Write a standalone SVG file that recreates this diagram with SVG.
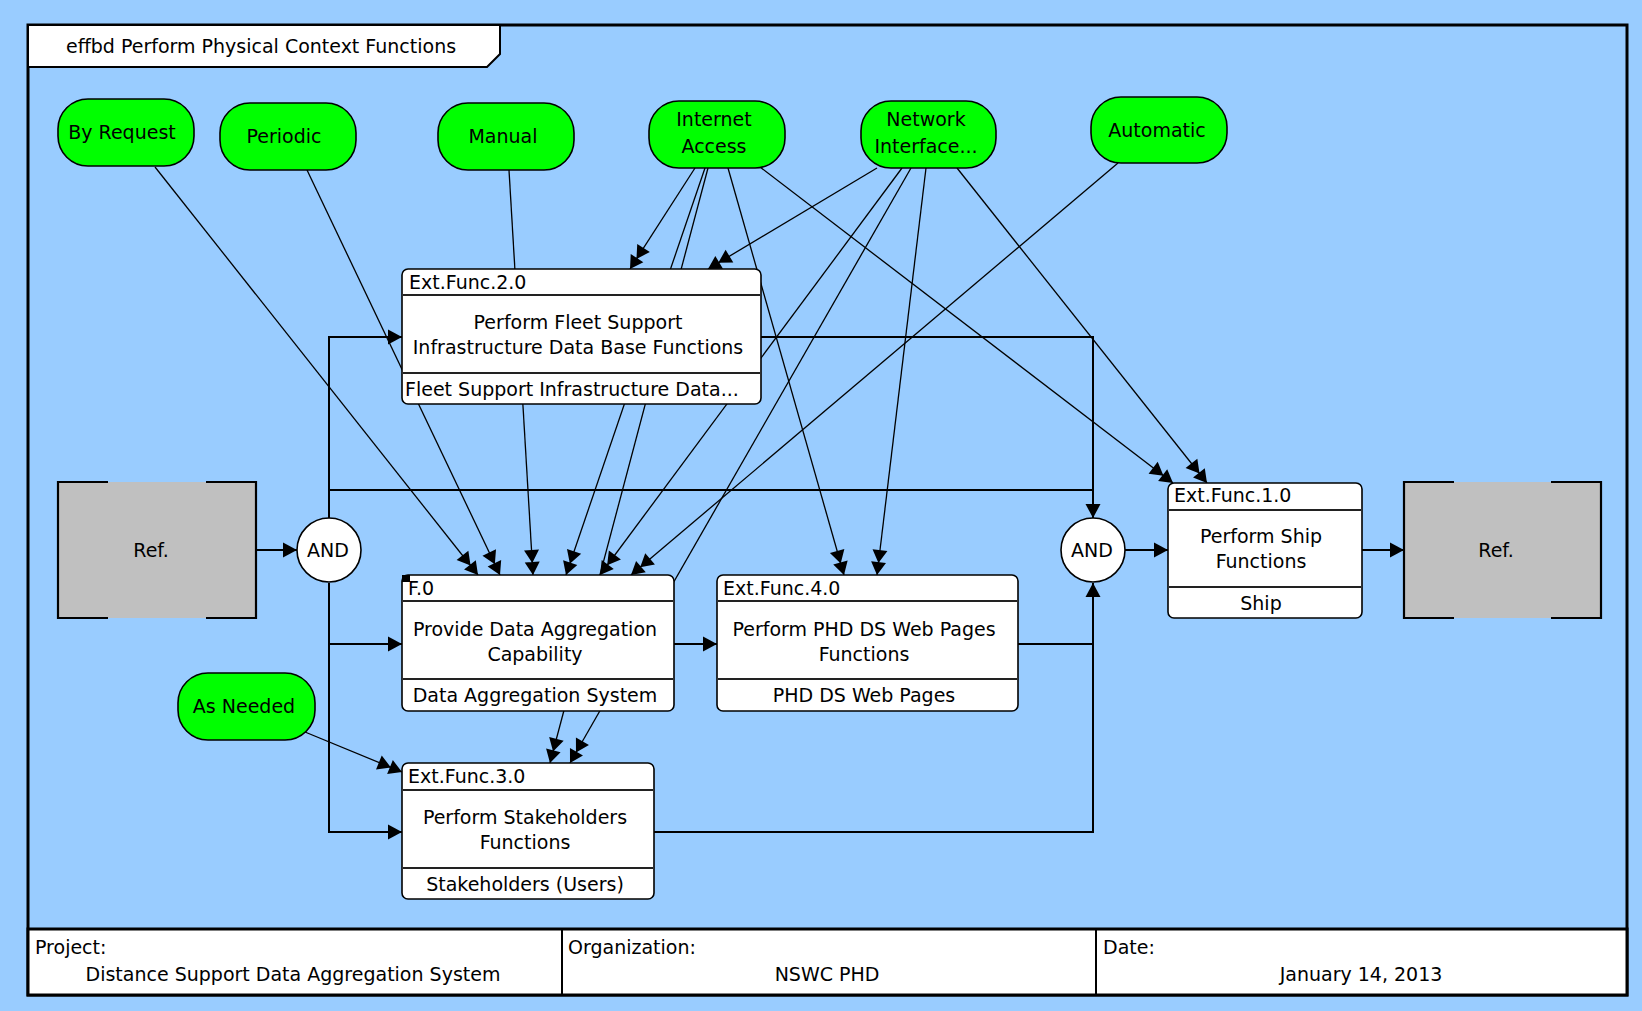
<svg xmlns="http://www.w3.org/2000/svg" width="1642" height="1011" viewBox="0 0 1642 1011">
<defs>
<style>
text { font-family: "DejaVu Sans", "Liberation Sans", sans-serif; font-size: 19px; fill: #000; }
.mid { text-anchor: middle; }
.res { fill: #00ff00; stroke: #000; stroke-width: 1.6; }
.fn { fill: #fff; stroke: #000; stroke-width: 1.6; }
.div { stroke: #222; stroke-width: 2; }
.ref { fill: #c0c0c0; }
.edge { stroke: #000; stroke-width: 2.2; fill: none; }
.gate { fill: #fff; stroke: #000; stroke-width: 1.6; }
.flow { stroke: #000; stroke-width: 2; fill: none; }
.arr { marker-end: url(#arr); }
.trig { stroke: #000; stroke-width: 1.3; fill: none; marker-end: url(#dbl); }
</style>
<marker id="arr" markerUnits="userSpaceOnUse" viewBox="-15 -8 16 16" refX="0" refY="0" markerWidth="16" markerHeight="16" orient="auto">
<path d="M0,0 L-14,-7.5 L-14,7.5 Z" fill="#000"/>
</marker>
<marker id="dbl" markerUnits="userSpaceOnUse" viewBox="-28 -9 29 18" refX="0" refY="0" markerWidth="29" markerHeight="18" orient="auto">
<path d="M0,0 L-13,-7.5 L-13,7.5 Z M-12,0 L-25,-7.5 L-25,7.5 Z" fill="#000"/>
</marker>
</defs>

<!-- sheet -->
<rect x="0" y="0" width="1642" height="1011" fill="#99ccff"/>
<g id="frame">
<rect x="28" y="25" width="1599" height="970" fill="none" stroke="#000" stroke-width="3"/>
<path d="M28,25 H500 V54 L487,67 H28 Z" fill="#fff" stroke="#000" stroke-width="2"/>
<text x="66" y="53">effbd Perform Physical Context Functions</text>
<rect x="28" y="929" width="1599" height="66" fill="#fff" stroke="#000" stroke-width="3"/>
<line x1="562" y1="929" x2="562" y2="995" stroke="#000" stroke-width="2"/>
<line x1="1096" y1="929" x2="1096" y2="995" stroke="#000" stroke-width="2"/>
<text x="35" y="954">Project:</text>
<text class="mid" x="293" y="981">Distance Support Data Aggregation System</text>
<text x="568" y="954">Organization:</text>
<text class="mid" x="827" y="981">NSWC PHD</text>
<text x="1103" y="954">Date:</text>
<text class="mid" x="1361" y="981">January 14, 2013</text>
</g>

<!-- connectors: control flow and trigger/resource links -->
<g id="connectors">
<path class="flow arr" d="M256,550 H297"/>
<path class="flow arr" d="M329,518 V337 H402"/>
<path class="flow" d="M329,490 H1093"/>
<path class="flow arr" d="M329,583 V832 H402"/>
<path class="flow arr" d="M329,644 H402"/>
<path class="flow arr" d="M761,337 H1093 V518"/>
<path class="flow arr" d="M674,644 H717"/>
<path class="flow" d="M1018,644 H1093"/>
<path class="flow arr" d="M654,832 H1093 V583"/>
<path class="flow arr" d="M1125,550 H1168"/>
<path class="flow arr" d="M1362,550 H1404"/>

<path class="trig" d="M155,167 L478,575"/>
<path class="trig" d="M307,170 L500,575"/>
<path class="trig" d="M509,170 L533,575"/>
<path class="trig" d="M695,168 L630,269"/>
<path class="trig" d="M877,168 L708,269"/>
<path class="trig" d="M705,168 L566,575"/>
<path class="trig" d="M708,168 L550,763"/>
<path class="trig" d="M902,168 L600,575"/>
<path class="trig" d="M1118,163 L631,575"/>
<path class="trig" d="M911,168 L570,763"/>
<path class="trig" d="M728,168 L844,575"/>
<path class="trig" d="M926,168 L877,575"/>
<path class="trig" d="M760,167 L1173,483"/>
<path class="trig" d="M957,168 L1207,483"/>
<path class="trig" d="M305,732 L402,772"/>
</g>

<!-- triggers / resources -->
<g id="by-request"><rect class="res" x="58" y="99" width="136" height="67" rx="30"/><text class="mid" x="122" y="139">By Request</text></g>
<g id="periodic"><rect class="res" x="220" y="103" width="136" height="67" rx="30"/><text class="mid" x="284" y="143">Periodic</text></g>
<g id="manual"><rect class="res" x="438" y="103" width="136" height="67" rx="30"/><text class="mid" x="503" y="143">Manual</text></g>
<g id="internet-access"><rect class="res" x="649" y="101" width="136" height="67" rx="30"/><text class="mid" x="714" y="126">Internet</text><text class="mid" x="714" y="153">Access</text></g>
<g id="network-interface"><rect class="res" x="861" y="101" width="135" height="67" rx="30"/><text class="mid" x="926" y="126">Network</text><text class="mid" x="926" y="153">Interface...</text></g>
<g id="automatic"><rect class="res" x="1091" y="97" width="136" height="66" rx="30"/><text class="mid" x="1157" y="137">Automatic</text></g>
<g id="as-needed"><rect class="res" x="178" y="673" width="137" height="67" rx="30"/><text class="mid" x="244" y="713">As Needed</text></g>

<!-- references -->
<g id="ref-in">
<rect class="ref" x="58" y="482" width="198" height="136"/>
<path class="edge" d="M108,482 H58 V618 H108 M206,482 H256 V618 H206"/>
<text class="mid" x="151" y="557">Ref.</text>
</g>
<g id="ref-out">
<rect class="ref" x="1404" y="482" width="197" height="136"/>
<path class="edge" d="M1454,482 H1404 V618 H1454 M1551,482 H1601 V618 H1551"/>
<text class="mid" x="1496" y="557">Ref.</text>
</g>

<!-- AND gates -->
<g id="and-open"><circle class="gate" cx="329" cy="550" r="32"/><text class="mid" x="328" y="557">AND</text></g>
<g id="and-close"><circle class="gate" cx="1093" cy="550" r="32"/><text class="mid" x="1092" y="557">AND</text></g>

<!-- functions -->
<g id="ext-func-2">
<rect class="fn" x="402" y="269" width="359" height="135" rx="6"/>
<line class="div" x1="403" y1="295" x2="760" y2="295"/>
<line class="div" x1="403" y1="373" x2="760" y2="373"/>
<text x="409" y="289">Ext.Func.2.0</text>
<text class="mid" x="578" y="329">Perform Fleet Support</text>
<text class="mid" x="578" y="354">Infrastructure Data Base Functions</text>
<text x="405" y="396">Fleet Support Infrastructure Data...</text>
</g>
<g id="f-0">
<rect class="fn" x="402" y="575" width="272" height="136" rx="6"/>
<rect x="402" y="575" width="8" height="7" fill="#000"/>
<line class="div" x1="403" y1="601" x2="673" y2="601"/>
<line class="div" x1="403" y1="679" x2="673" y2="679"/>
<text x="408" y="595">F.0</text>
<text class="mid" x="535" y="636">Provide Data Aggregation</text>
<text class="mid" x="535" y="661">Capability</text>
<text class="mid" x="535" y="702">Data Aggregation System</text>
</g>
<g id="ext-func-4">
<rect class="fn" x="717" y="575" width="301" height="136" rx="6"/>
<line class="div" x1="718" y1="601" x2="1017" y2="601"/>
<line class="div" x1="718" y1="679" x2="1017" y2="679"/>
<text x="723" y="595">Ext.Func.4.0</text>
<text class="mid" x="864" y="636">Perform PHD DS Web Pages</text>
<text class="mid" x="864" y="661">Functions</text>
<text class="mid" x="864" y="702">PHD DS Web Pages</text>
</g>
<g id="ext-func-3">
<rect class="fn" x="402" y="763" width="252" height="136" rx="6"/>
<line class="div" x1="403" y1="790" x2="653" y2="790"/>
<line class="div" x1="403" y1="868" x2="653" y2="868"/>
<text x="408" y="783">Ext.Func.3.0</text>
<text class="mid" x="525" y="824">Perform Stakeholders</text>
<text class="mid" x="525" y="849">Functions</text>
<text class="mid" x="525" y="891">Stakeholders (Users)</text>
</g>
<g id="ext-func-1">
<rect class="fn" x="1168" y="483" width="194" height="135" rx="6"/>
<line class="div" x1="1169" y1="510" x2="1361" y2="510"/>
<line class="div" x1="1169" y1="587" x2="1361" y2="587"/>
<text x="1174" y="502">Ext.Func.1.0</text>
<text class="mid" x="1261" y="543">Perform Ship</text>
<text class="mid" x="1261" y="568">Functions</text>
<text class="mid" x="1261" y="610">Ship</text>
</g>
</svg>
